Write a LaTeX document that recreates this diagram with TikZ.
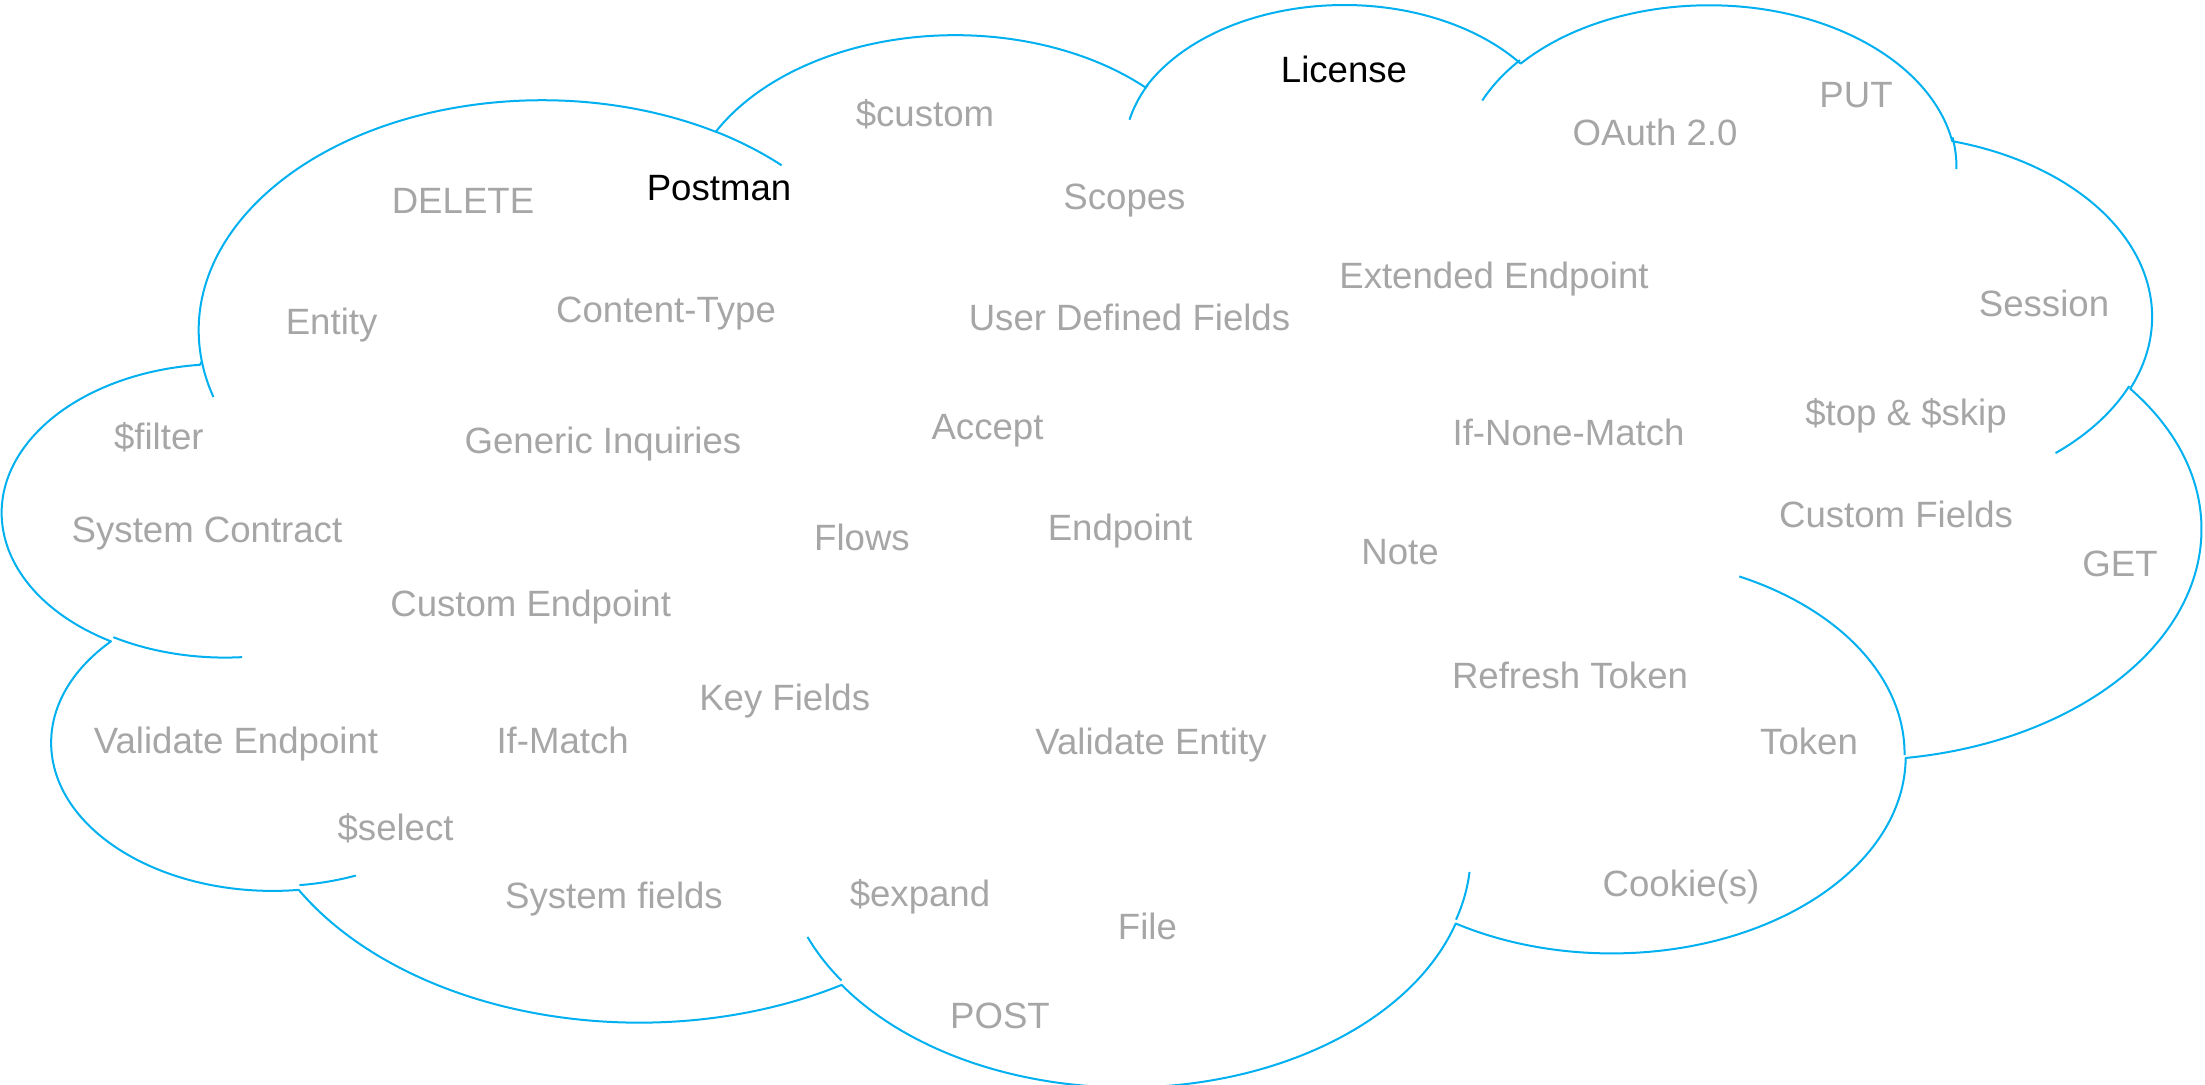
\documentclass[tikz,border=0pt]{standalone}
\usepackage{fontspec}
\setmainfont{Liberation Sans}
\usepackage{xcolor}
\definecolor{c1}{HTML}{00B0F0}
\definecolor{g1}{HTML}{A6A6A6}
\newcommand\cux{2.54282}
\newcommand\cuy{1.25231}
\tikzstyle{word}=[text=g1,font=\fontsize{18.3}{22}\selectfont,inner sep=0pt,anchor=base]
\tikzstyle{keyword}=[word,text=black]
\tikzstyle{cloud line}=[c1,line width=1pt,line join=round]
% elliptic arc given as in a preset shape: rx/ry/start/sweep (visual angles)
\tikzset{oo arc/.code args={#1/#2/#3/#4}{%
  \pgfmathsetmacro\arcts{atan2((#1)*sin(#3),(#2)*cos(#3))}%
  \pgfmathsetmacro\arcte{atan2((#1)*sin((#3)+(#4)),(#2)*cos((#3)+(#4)))}%
  \pgfmathsetmacro\arcdt{\arcte-\arcts-360*round((\arcte-\arcts-(#4))/360)}%
  \pgfmathsetmacro\arcrx{(#1)*\cux}%
  \pgfmathsetmacro\arcry{(#2)*\cuy}%
  \pgfmathsetmacro\arcs{-\arcts}%
  \pgfmathsetmacro\arcd{-\arcdt}%
  \edef\arcopts{x radius=\arcrx pt,y radius=\arcry pt,start angle=\arcs,delta angle=\arcd}%
  \expandafter\tikzset\expandafter{\arcopts}}}
\begin{document}
\begin{tikzpicture}[x=0.5pt,y=-0.5pt]
  \useasboundingbox (0,0) rectangle (2205,1085);
  \begin{scope}[shift={(1.75pt,-0.75pt)},x=2.54282pt,y=-1.25231pt]
    \draw[cloud line] (39.00,143.70)
      arc[oo arc=67.53/91.90/-190.48748/123.78053]
      arc[oo arc=53.33/72.67/-144.10238/89.94523]
      arc[oo arc=43.65/59.45/-145.80792/99.72302]
      arc[oo arc=48.57/65.95/-130.98607/117.24173]
      arc[oo arc=53.33/72.73/-78.70888/109.02692]
      arc[oo arc=67.75/92.20/-46.26725/130.269]
      arc[oo arc=57.85/78.67/0.62502/114.03333]
      arc[oo arc=67.52/92.15/22.4516/115.17255]
      arc[oo arc=77.20/105.43/66.24263/75.71102]
      arc[oo arc=43.60/59.18/-274.94208/146.73557]
      arc[oo arc=43.45/59.45/-246.8285/152.51885] -- cycle;
    \draw[cloud line] (46.93,261.77) arc[oo arc=43.45/59.45/86.742/26.4295];
    \draw[cloud line] (69.28,348.99) arc[oo arc=43.60/59.18/73.61047/11.44747];
    \draw[cloud line] (164.78,390.90) arc[oo arc=67.52/92.15/137.62415/14.0811];
    \draw[cloud line] (288.27,347.51) arc[oo arc=67.52/92.15/6.45327/15.99835];
    \draw[cloud line] (341.29,229.54) arc[oo arc=57.85/78.67/-70.29235/70.91737];
    \draw[cloud line] (417.98,153.54) arc[oo arc=53.33/72.73/30.31803/27.7515];
    \draw[cloud line] (383.24,54.26) arc[oo arc=48.57/65.95/-13.74433/14.8589];
    \draw[cloud line] (290.78,39.52) arc[oo arc=48.57/65.95/-149.18145/18.19537];
    \draw[cloud line] (221.41,47.20) arc[oo arc=43.65/59.45/-163.49427/17.68635];
    \draw[cloud line] (140.00,51.92) arc[oo arc=67.53/91.90/-66.70695/12.31935];
    \draw[cloud line] (41.27,157.89) arc[oo arc=67.53/91.90/157.65435/11.85817];
  \end{scope}

  \node[keyword] (license) at (1344,82.9) {License};
  \node[keyword] (postman) at (719,200.6) {Postman};
  \node[word] (custom) at (925,126.9) {\$custom};
  \node[word] (put) at (1856,107.1) {PUT};
  \node[word] (oauth) at (1655,145.2) {OAuth 2.0};
  \node[word] (delete) at (463,213.4) {DELETE};
  \node[word] (scopes) at (1124.5,209.3) {Scopes};
  \node[word] (extended) at (1494,288.2) {Extended Endpoint};
  \node[word] (session) at (2044,316.6) {Session};
  \node[word] (entity) at (331.6,334.6) {Entity};
  \node[word] (contenttype) at (666,322.9) {Content-Type};
  \node[word] (userfields) at (1129.5,330.5) {User Defined Fields};
  \node[word] (filter) at (158.8,450) {\$filter};
  \node[word] (inquiries) at (603,453.4) {Generic Inquiries};
  \node[word] (accept) at (987.5,439.6) {Accept};
  \node[word] (nonematch) at (1568.5,445.8) {If-None-Match};
  \node[word] (topskip) at (1906,425.7) {\$top \& \$skip};
  \node[word] (contract) at (207,542) {System Contract};
  \node[word] (flows) at (862,550.5) {Flows};
  \node[word] (endpoint) at (1120,540.5) {Endpoint};
  \node[word] (note) at (1400,564.3) {Note};
  \node[word] (customfields) at (1896,527.2) {Custom Fields};
  \node[word] (get) at (2120,576.4) {GET};
  \node[word] (customendpoint) at (530.7,616.5) {Custom Endpoint};
  \node[word] (refresh) at (1570,688.7) {Refresh Token};
  \node[word] (keyfields) at (784.7,710) {Key Fields};
  \node[word] (valendpoint) at (236,753.8) {Validate Endpoint};
  \node[word] (ifmatch) at (562.6,753.8) {If-Match};
  \node[word] (valentity) at (1151,754.5) {Validate Entity};
  \node[word] (token) at (1809,754.5) {Token};
  \node[word] (select) at (395.6,840) {\$select};
  \node[word] (sysfields) at (614,908.6) {System fields};
  \node[word] (expand) at (920,906.2) {\$expand};
  \node[word] (file) at (1147.4,939.3) {File};
  \node[word] (cookies) at (1681,896.5) {Cookie(s)};
  \node[word] (post) at (1000,1028.8) {POST};
\end{tikzpicture}
\end{document}
